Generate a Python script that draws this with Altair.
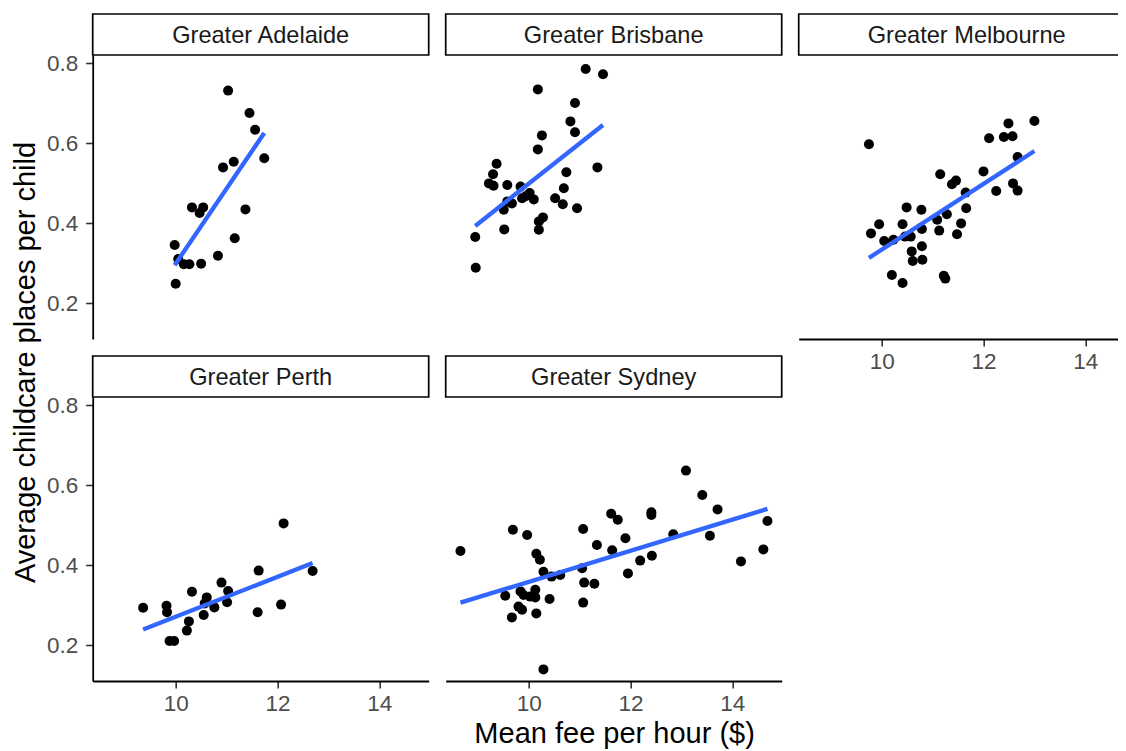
import altair as alt
import pandas as pd

FONT = "Liberation Sans"

regions = ["Greater Adelaide", "Greater Brisbane", "Greater Melbourne",
           "Greater Perth", "Greater Sydney"]

adelaide_fee = [11.03, 11.45, 11.56, 11.74, 10.93, 11.14, 10.32, 10.54, 10.47,
                11.37, 11.16, 10.83, 9.98, 10.05, 10.16, 10.27, 10.50, 10.00]
adelaide_places = [0.732, 0.676, 0.634, 0.563, 0.540, 0.554, 0.440, 0.440, 0.426,
                   0.435, 0.363, 0.319, 0.346, 0.311, 0.298, 0.298, 0.299, 0.249]

brisbane_fee = [11.12, 11.46, 10.18, 10.91, 10.82, 10.91, 10.26, 10.18, 9.37, 9.30,
                9.22, 9.31, 9.58, 9.84, 10.74, 11.35, 10.69, 10.02, 9.87, 9.58,
                9.67, 10.10, 10.52, 10.67, 9.51, 10.95, 10.28, 10.20, 10.20, 9.52,
                8.95, 8.96, 9.94]
brisbane_places = [0.786, 0.773, 0.735, 0.701, 0.655, 0.628, 0.620, 0.585, 0.549, 0.523,
                   0.500, 0.494, 0.496, 0.492, 0.528, 0.540, 0.488, 0.476, 0.463, 0.455,
                   0.450, 0.460, 0.463, 0.448, 0.434, 0.438, 0.415, 0.405, 0.384, 0.385,
                   0.366, 0.289, 0.468]

melbourne_fee = [9.75, 13.0, 12.49, 12.11, 12.40, 12.57, 12.67, 12.0, 12.58, 12.67,
                 12.25, 11.15, 11.38, 11.46, 11.65, 11.66, 11.28, 11.09, 11.56, 11.13,
                 11.48, 10.49, 10.78, 9.95, 9.79, 10.41, 10.79, 10.05, 10.23, 10.46,
                 10.57, 10.79, 10.59, 10.61, 10.80, 10.20, 10.41, 11.22, 11.25]
melbourne_places = [0.598, 0.656, 0.650, 0.613, 0.616, 0.618, 0.566, 0.530, 0.500, 0.482,
                    0.481, 0.523, 0.498, 0.507, 0.477, 0.438, 0.423, 0.409, 0.400, 0.382,
                    0.373, 0.440, 0.434, 0.398, 0.375, 0.398, 0.386, 0.356, 0.359, 0.367,
                    0.367, 0.343, 0.330, 0.306, 0.309, 0.271, 0.251, 0.269, 0.262]

perth_fee = [12.12, 11.63, 12.69, 12.07, 11.61, 9.36, 9.82, 9.83, 10.32, 10.90,
             11.03, 11.01, 10.61, 10.57, 10.76, 10.55, 10.26, 10.22, 9.88, 9.97]
perth_places = [0.505, 0.387, 0.386, 0.302, 0.283, 0.294, 0.299, 0.283, 0.334, 0.357,
                0.336, 0.308, 0.320, 0.305, 0.295, 0.276, 0.260, 0.237, 0.211, 0.211]

sydney_fee = [8.66, 9.69, 9.97, 11.07, 13.09, 13.41, 13.71, 14.69, 14.61, 14.17,
              13.56, 12.84, 12.41, 12.41, 11.62, 11.75, 11.90, 11.34, 11.64, 12.42,
              12.19, 11.95, 11.05, 11.09, 11.29, 11.07, 10.15, 10.22, 10.29, 10.45,
              10.62, 9.54, 9.84, 9.90, 10.13, 10.03, 10.13, 10.41, 9.80, 9.87,
              9.67, 10.15, 10.29]
sydney_places = [0.436, 0.489, 0.476, 0.491, 0.637, 0.576, 0.540, 0.511, 0.440, 0.410,
                 0.474, 0.478, 0.533, 0.526, 0.529, 0.514, 0.468, 0.451, 0.438, 0.424,
                 0.412, 0.380, 0.393, 0.357, 0.354, 0.307, 0.429, 0.414, 0.384, 0.372,
                 0.376, 0.324, 0.335, 0.326, 0.339, 0.322, 0.320, 0.316, 0.297, 0.289,
                 0.270, 0.280, 0.140]

x_ticks = [10, 12, 14]
y_ticks = [0.2, 0.4, 0.6, 0.8]
x_title = "Mean fee per hour ($)"
y_title = "Average childcare places per child"

fees = [adelaide_fee, brisbane_fee, melbourne_fee, perth_fee, sydney_fee]
places = [adelaide_places, brisbane_places, melbourne_places, perth_places, sydney_places]

rows = []
for name, xs, ys in zip(regions, fees, places):
    for a, b in zip(xs, ys):
        rows.append({"region": name, "fee": a, "places": b})
df = pd.DataFrame(rows)

W, H = 336, 284
X_DOMAIN = [8.37, 14.97]
Y_DOMAIN = [0.111, 0.821]

axis_common = dict(
    labelFont=FONT, labelFontSize=22.5, labelColor="#4D4D4D",
    tickColor="#333333", tickSize=7, tickWidth=1.6,
    domainColor="black", domainWidth=1.8, grid=False,
    titleFont=FONT, titleFontSize=29, titleColor="black", titleFontWeight="normal",
)


def panel(name, show_x, show_y, with_x_title=False, with_y_title=False):
    if show_x:
        kw = dict(axis_common, values=x_ticks, format="d", labelPadding=4)
        if with_x_title:
            kw.update(title=x_title, titleX=168.4, titleY=61.5,
                      titleAlign="center", titleBaseline="alphabetic", titleAngle=0)
        else:
            kw.update(title=None)
        x_axis = alt.Axis(**kw)
    else:
        x_axis = None
    if show_y:
        kw = dict(axis_common, values=y_ticks, format=".1f", labelPadding=8)
        if with_y_title:
            kw.update(title=y_title, titleX=-58, titleY=307, titleAngle=270,
                      titleAlign="center", titleBaseline="alphabetic")
        else:
            kw.update(title=None)
        y_axis = alt.Axis(**kw)
    else:
        y_axis = None

    x = alt.X("fee:Q", scale=alt.Scale(domain=X_DOMAIN, nice=False, zero=False), axis=x_axis)
    y = alt.Y("places:Q", scale=alt.Scale(domain=Y_DOMAIN, nice=False, zero=False), axis=y_axis)

    base = alt.Chart(df).transform_filter(alt.datum.region == name)
    pts = base.mark_circle(size=100, color="black", opacity=1).encode(x=x, y=y)
    line = base.transform_regression("fee", "places").mark_line(
        color="#3366FF", strokeWidth=4.3).encode(x=x, y=y)

    strip_df = pd.DataFrame({"region": [name]})
    strip_box = alt.Chart(strip_df).mark_rect(
        fill="white", stroke="black", strokeWidth=1.7
    ).encode(x=alt.value(0), x2=alt.value(W), y=alt.value(-41), y2=alt.value(0))
    strip_text = alt.Chart(strip_df).mark_text(
        font=FONT, fontSize=23.6, color="#1A1A1A", align="center", baseline="alphabetic"
    ).encode(x=alt.value(W / 2), y=alt.value(-12.3), text="region:N")

    return alt.layer(pts, line, strip_box, strip_text).properties(width=W, height=H)


p1 = panel("Greater Adelaide", False, True, with_y_title=True)
p2 = panel("Greater Brisbane", False, False)
p3 = panel("Greater Melbourne", True, False)
p4 = panel("Greater Perth", True, True)
p5 = panel("Greater Sydney", True, False, with_x_title=True)

# Fixed canvas: panel grid origin placed at (92.7, 55) on the page, canvas 1110 x 743
chart = alt.concat(
    p1, p2, p3, p4, p5, columns=3,
    spacing={"row": 58, "column": 17}, bounds="flush"
).properties(
    autosize=alt.AutoSizeParams(type="none"),
    padding={"left": 84.7, "top": 47, "right": 1025.3, "bottom": 696},
    background="white",
).configure_view(stroke=None)

chart.save("out.html", embed_options={"renderer": "svg", "actions": False})
